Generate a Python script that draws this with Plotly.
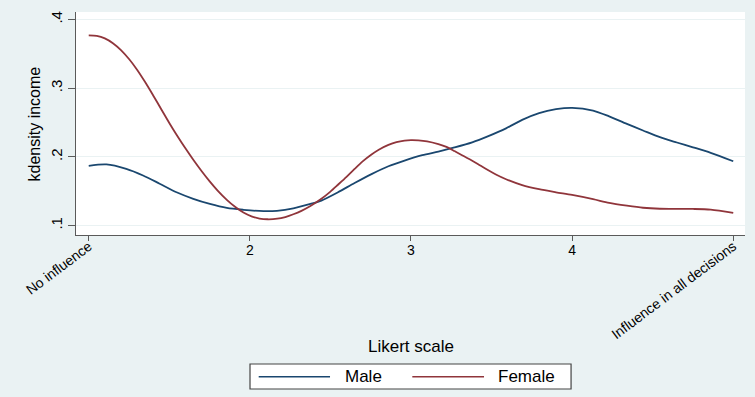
import plotly.graph_objects as go

# Evaluation points and kernel density estimates
male_x = [1.00, 1.11, 1.233, 1.337, 1.44, 1.545, 1.649, 1.752, 1.857, 1.96, 2.085, 2.168,
          2.27, 2.376, 2.444, 2.547, 2.65, 2.755, 2.86, 2.96, 3.07, 3.17, 3.27, 3.38, 3.48,
          3.59, 3.69, 3.795, 3.90, 4.00, 4.13, 4.23, 4.34, 4.44, 4.545, 4.65, 4.75, 4.86, 5.00]
male_y = [0.187, 0.189, 0.1825, 0.173, 0.161, 0.1485, 0.139, 0.1315, 0.1257, 0.123, 0.121, 0.1215,
          0.125, 0.1315, 0.1364, 0.1485, 0.162, 0.175, 0.1864, 0.1947, 0.2025, 0.2078, 0.2138, 0.2212, 0.2302,
          0.2415, 0.2540, 0.2638, 0.2695, 0.2715, 0.2675, 0.259, 0.248, 0.2385, 0.2287, 0.221, 0.214, 0.206, 0.1937]

female_x = [1.00, 1.05, 1.10, 1.15, 1.20, 1.25, 1.30, 1.35, 1.40, 1.45, 1.50, 1.55, 1.60, 1.65,
            1.70, 1.752, 1.80, 1.857, 1.91, 1.96, 2.01, 2.06, 2.11, 2.17, 2.22, 2.27, 2.32,
            2.376, 2.444, 2.50, 2.547, 2.60, 2.65, 2.70, 2.755, 2.80, 2.86, 2.91, 2.96, 3.00,
            3.046, 3.10, 3.17, 3.22, 3.27, 3.32, 3.38, 3.43, 3.48, 3.53, 3.59, 3.69, 3.795,
            3.90, 4.00, 4.13, 4.23, 4.34, 4.44, 4.545, 4.65, 4.75, 4.86, 5.00]
female_y = [0.377, 0.3762, 0.3725, 0.3655, 0.3555, 0.3425, 0.327, 0.309, 0.2895, 0.2695, 0.2495,
            0.2305, 0.2125, 0.1955, 0.1795, 0.164, 0.151, 0.1375, 0.127, 0.119, 0.1135, 0.1103,
            0.1092, 0.1100, 0.1125, 0.1165, 0.1215, 0.1285, 0.139, 0.1495, 0.1595, 0.171, 0.1825,
            0.1935, 0.2035, 0.2105, 0.2175, 0.2215, 0.2237, 0.2243, 0.2240, 0.2225, 0.2185,
            0.2145, 0.2085, 0.2020, 0.1945, 0.1875, 0.1805, 0.1740, 0.1675, 0.1590, 0.1530,
            0.1485, 0.1446, 0.1385, 0.1330, 0.1290, 0.1260, 0.1245, 0.1242, 0.1242, 0.1233, 0.1184]

series_names = ["Male", "Female"]
series_colors = ["#1a476f", "#90353b"]

mid_ticks = [2, 3, 4]
mid_labels = ["2", "3", "4"]
end_ticks = [1, 5]
end_labels = ["No influence", "Influence in all decisions"]
y_ticks = [0.1, 0.2, 0.3, 0.4]
y_labels = [".1", ".2", ".3", ".4"]

FONT = "Arial, Liberation Sans, Helvetica, sans-serif"
BG = "#EAF2F3"
AXC = "#5a5a5a"

fig = go.Figure()
fig.add_trace(go.Scatter(x=male_x, y=male_y, mode="lines", name=series_names[0],
                         line=dict(color=series_colors[0], width=1.8, shape="spline", smoothing=0.8),
                         showlegend=False))
fig.add_trace(go.Scatter(x=female_x, y=female_y, mode="lines", name=series_names[1],
                         line=dict(color=series_colors[1], width=1.8, shape="spline", smoothing=0.8),
                         showlegend=False))
# invisible helper trace so the secondary (angled-label) x axis is drawn
fig.add_trace(go.Scatter(x=end_ticks, y=[0.2, 0.2], xaxis="x2", yaxis="y", mode="lines",
                         opacity=0, hoverinfo="skip", showlegend=False))

xr = [0.921, 5.073]
fig.update_layout(
    width=755, height=397,
    margin=dict(l=76, r=10, t=12, b=162),
    paper_bgcolor=BG, plot_bgcolor="white",
    font=dict(family=FONT, color="black", size=14),
    xaxis=dict(range=xr, tickmode="array", tickvals=mid_ticks, ticktext=mid_labels,
               tickangle=0, ticks="outside", ticklen=5, tickcolor=AXC, tickwidth=1.3,
               showline=True, linecolor=AXC, linewidth=1.3, showgrid=False, zeroline=False,
               tickfont=dict(size=14), ticklabelstandoff=-3),
    xaxis2=dict(range=xr, overlaying="x", anchor="y", side="bottom", tickmode="array",
                tickvals=end_ticks, ticktext=end_labels, tickangle=-37, ticks="outside",
                ticklen=5, tickcolor=AXC, tickwidth=1.3, showline=False, showgrid=False,
                zeroline=False, tickfont=dict(size=14), ticklabelstandoff=-8),
    yaxis=dict(range=[0.0863, 0.411], tickmode="array", tickvals=y_ticks, ticktext=y_labels,
               tickangle=-90, ticks="outside", ticklen=7, tickcolor=AXC, tickwidth=1.3,
               showline=True, linecolor=AXC, linewidth=1.3, showgrid=True, gridcolor=BG,
               gridwidth=1.2, zeroline=False, tickfont=dict(size=15)),
)

# axis titles
fig.add_annotation(text="Likert scale", xref="paper", yref="paper", x=0.5, y=-0.502,
                   xanchor="center", yanchor="middle", showarrow=False, font=dict(size=17))
fig.add_annotation(text="kdensity income", xref="paper", yref="paper", x=-0.0613, y=0.5,
                   textangle=-90, xanchor="center", yanchor="middle", showarrow=False,
                   font=dict(size=16))

# legend (Stata style box)
fig.add_shape(type="rect", xref="paper", yref="paper", x0=0.2601, x1=0.740, y0=-0.6906, y1=-0.5785,
              fillcolor="white", line=dict(color="#444444", width=1.2))
leg_line_x = [(0.2731, 0.3797), (0.5027, 0.6099)]
leg_text_x = [0.3987, 0.6278]
for i in range(2):
    fig.add_shape(type="line", xref="paper", yref="paper", x0=leg_line_x[i][0], x1=leg_line_x[i][1],
                  y0=-0.6354, y1=-0.6354, line=dict(color=series_colors[i], width=1.5))
    fig.add_annotation(text=series_names[i], xref="paper", yref="paper", x=leg_text_x[i], y=-0.6354,
                       xanchor="left", yanchor="middle", showarrow=False, font=dict(size=17))

fig.write_html("out.html", config={"displayModeBar": False},
               post_script="document.body.style.margin='0';document.body.style.background='%s';" % BG)
